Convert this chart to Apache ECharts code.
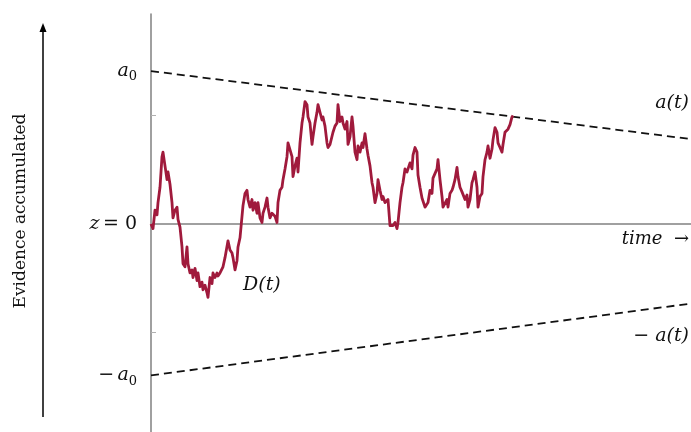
<!DOCTYPE html>
<html>
<head>
<meta charset="utf-8">
<script src="https://cdn.jsdelivr.net/npm/echarts@6/dist/echarts.min.js"></script>
<style>
  html, body { margin: 0; padding: 0; background: #fff; }
  #chart { width: 691px; height: 432px; }
</style>
</head>
<body>
<div id="chart"></div>
<script>
  // time steps of the diffusion path (arbitrary units, axis runs 0..540)
  const pathTime = [
    0, 1, 2, 4, 6, 7, 9, 11, 12, 14, 16, 17, 19, 21, 22, 24, 26, 27, 29, 31, 32, 34, 36, 37, 39, 41, 42, 44, 46, 47,
    49, 51, 52, 54, 56, 57, 59, 61, 62, 64, 66, 67, 69, 71, 72, 74, 76, 77, 79, 81, 82, 84, 86, 87, 89, 91, 92, 94,
    96, 97, 99, 101, 102, 104, 106, 107, 109, 111, 112, 114, 116, 117, 119, 121, 122, 124, 126, 127, 129, 131, 132,
    134, 136, 137, 139, 141, 142, 144, 146, 147, 149, 151, 152, 154, 156, 157, 159, 161, 162, 164, 166, 167, 169,
    171, 172, 174, 176, 177, 179, 181, 182, 184, 186, 187, 189, 191, 192, 194, 196, 197, 199, 201, 202, 204, 206,
    207, 209, 211, 212, 214, 216, 217, 219, 221, 222, 224, 226, 227, 229, 231, 232, 234, 236, 237, 239, 241, 242,
    244, 246, 247, 249, 251, 252, 254, 256, 257, 259, 261, 262, 264, 266, 267, 269, 271, 272, 274, 276, 277, 279,
    281, 282, 284, 286, 287, 289, 291, 292, 294, 296, 297, 299, 301, 302, 304, 306, 307, 309, 311, 312, 314, 316,
    317, 319, 321, 322, 324, 326, 327, 329, 331, 332, 334, 336, 337, 339, 341, 342, 344, 346, 347, 349, 351, 352,
    354, 356, 357, 359, 361, 362
  ];
  // accumulated evidence D(t), in units of a0
  const pathValue = [
    0, -0.01, -0.03, 0.09, 0.06, 0.14, 0.24, 0.44, 0.47, 0.47, 0.29, 0.34, 0.26, 0.14, 0.04, 0.09, 0.11, 0.03, -0.02,
    -0.15, -0.26, -0.28, -0.15, -0.26, -0.32, -0.30, -0.35, -0.29, -0.37, -0.32, -0.41, -0.38, -0.43, -0.40, -0.45,
    -0.48, -0.35, -0.39, -0.32, -0.35, -0.32, -0.34, -0.32, -0.32, -0.28, -0.22, -0.22, -0.11, -0.17, -0.19, -0.22,
    -0.30, -0.24, -0.15, -0.09, 0.05, 0.12, 0.20,
    0.22, 0.16, 0.11, 0.16, 0.09, 0.14, 0.07, 0.14, 0.04, 0.01, 0.07, 0.11, 0.17, 0.11, 0.04, 0.07, 0.06, 0.05, 0.01,
    0.14, 0.22, 0.24, 0.29, 0.36, 0.44, 0.53, 0.52, 0.44, 0.31, 0.38, 0.43, 0.34, 0.53, 0.66, 0.70, 0.80, 0.78, 0.70,
    0.66, 0.52, 0.57, 0.66, 0.73, 0.78, 0.77, 0.68, 0.70, 0.64,
    0.53, 0.50, 0.52, 0.51, 0.60, 0.64, 0.66, 0.78, 0.67, 0.70, 0.66, 0.62, 0.67, 0.52, 0.57, 0.70, 0.64, 0.47, 0.42,
    0.51, 0.47, 0.53, 0.50, 0.59, 0.49, 0.45, 0.38, 0.27, 0.24, 0.14, 0.20, 0.29, 0.22, 0.16, 0.18, 0.14, 0.13, 0.16,
    -0.01, -0.02, -0.01, 0.01, -0.03, 0.01, 0.14, 0.24, 0.27, 0.36, 0.34, 0.36, 0.40, 0.36, 0.45, 0.50, 0.47,
    0.32, 0.24, 0.17, 0.16, 0.11, 0.11, 0.14, 0.22, 0.20, 0.30, 0.29, 0.36, 0.42, 0.29, 0.18, 0.11, 0.11, 0.16, 0.11,
    0.20, 0.22, 0.24, 0.29, 0.37, 0.31, 0.24, 0.21, 0.20, 0.16, 0.19, 0.11, 0.16, 0.27, 0.29, 0.34, 0.24, 0.11, 0.18,
    0.20, 0.31, 0.42, 0.47, 0.51, 0.43, 0.49, 0.55, 0.63, 0.60, 0.53, 0.50, 0.47, 0.52, 0.60, 0.61, 0.62, 0.65, 0.70,
    0.71
  ];
  // collapsing bounds a(t) and -a(t)
  const boundTime = [0, 540];
  const upperBound = [1.0, 0.555];
  const lowerBound = [-0.99, -0.52];
  // y axis labels and the two small tick marks
  const labelValues = [1.0, 0, -0.99];
  const tickValues = [0.71, -0.71];

  const serifFont = "DejaVu Serif";
  const zip = (xs, ys) => xs.map((x, i) => [x, ys[i]]);

  const chart = echarts.init(document.getElementById("chart"), null, { renderer: "canvas" });

  const option = {
    backgroundColor: "#fff",
    animation: false,
    grid: { left: 151, right: 0, top: 14, bottom: 0 },
    xAxis: {
      type: "value",
      min: 0,
      max: 540,
      axisLine: { show: true, onZero: true, lineStyle: { color: "#a0a0a0", width: 2 } },
      axisTick: { show: false },
      axisLabel: { show: false },
      splitLine: { show: false },
    },
    yAxis: {
      type: "value",
      min: -1.36,
      max: 1.373,
      axisLine: { show: true, onZero: false, lineStyle: { color: "#808080", width: 1.5 } },
      axisTick: {
        show: true,
        inside: true,
        length: 5,
        customValues: tickValues,
        lineStyle: { color: "#b0b0b0", width: 1 },
      },
      splitLine: { show: false },
      axisLabel: {
        show: true,
        margin: 14,
        customValues: labelValues,
        formatter: v => (v > 0.5 ? "{a|a}{s|0}" : v < -0.5 ? "{n|−} {a|a}{s|0}" : "{a|z} {n|= 0}"),
        rich: {
          a: { fontFamily: serifFont, fontStyle: "italic", fontSize: 19, color: "#111" },
          n: { fontFamily: serifFont, fontSize: 19, color: "#111" },
          s: { fontFamily: serifFont, fontSize: 13, color: "#111", padding: [12, 0, 0, 0] },
        },
      },
    },
    graphic: [
      // vertical arrow on the far left
      { type: "line", shape: { x1: 43, y1: 417, x2: 43, y2: 30 }, style: { stroke: "#000", lineWidth: 1.5 } },
      { type: "polygon", shape: { points: [[43, 23], [39.5, 32], [46.5, 32]] }, style: { fill: "#000" } },
      {
        type: "text",
        x: 21,
        y: 211,
        rotation: Math.PI / 2,
        style: {
          text: "Evidence accumulated",
          font: "17px '" + serifFont + "'",
          fill: "#111",
          align: "center",
          verticalAlign: "middle",
        },
      },
      {
        type: "text",
        right: 2,
        top: 94,
        style: { text: "a(t)", font: "italic 19px '" + serifFont + "'", fill: "#111" },
      },
      {
        type: "text",
        right: 2,
        top: 327,
        style: { text: "− a(t)", font: "italic 19px '" + serifFont + "'", fill: "#111" },
      },
      {
        type: "text",
        right: 2,
        top: 230,
        style: { text: "time  →", font: "italic 18px '" + serifFont + "'", fill: "#111" },
      },
      {
        type: "text",
        left: 243,
        top: 276,
        style: { text: "D(t)", font: "italic 19px '" + serifFont + "'", fill: "#111" },
      },
    ],
    series: [
      {
        name: "a(t)",
        type: "line",
        data: zip(boundTime, upperBound),
        symbol: "none",
        lineStyle: { color: "#111", width: 1.8, type: [8, 5] },
        z: 3,
      },
      {
        name: "-a(t)",
        type: "line",
        data: zip(boundTime, lowerBound),
        symbol: "none",
        lineStyle: { color: "#111", width: 1.8, type: [8, 5] },
        z: 3,
      },
      {
        name: "D(t)",
        type: "line",
        data: zip(pathTime, pathValue),
        symbol: "none",
        lineStyle: { color: "#a01a3c", width: 2.8, join: "round" },
        z: 4,
      },
    ],
  };

  chart.setOption(option);
  window.addEventListener("resize", () => chart.resize());
</script>
</body>
</html>
